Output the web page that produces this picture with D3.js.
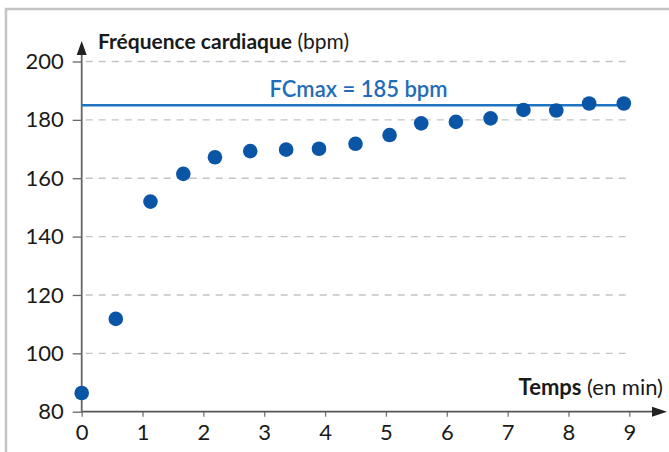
<!DOCTYPE html>
<html>
<head>
<meta charset="utf-8">
<script src="https://cdn.jsdelivr.net/npm/d3@7"></script>
<style>
  body { margin: 0; background: #fff; }
  svg { display: block; font-family: Lato, "Open Sans", sans-serif; }
</style>
</head>
<body>
<div id="chart"></div>
<script>
// time (min) and heart rate (bpm)
const minutes = [0, 0.56, 1.13, 1.67, 2.19, 2.77, 3.36, 3.9, 4.5, 5.06, 5.58, 6.15, 6.72, 7.26, 7.8, 8.34, 8.91];
const bpm = [86.4, 111.8, 152, 161.5, 167.2, 169.3, 169.8, 170.1, 171.8, 174.8, 178.8, 179.3, 180.5, 183.4, 183.2, 185.6, 185.6];
const xTicks = [0, 1, 2, 3, 4, 5, 6, 7, 8, 9];
const yTicks = [80, 100, 120, 140, 160, 180, 200];
const fcMax = 185;

const data = minutes.map((m, i) => ({ t: m, hr: bpm[i] }));

const width = 669, height = 452;
const svg = d3.select("#chart").append("svg")
    .attr("width", width)
    .attr("height", height);

// frame
svg.append("rect")
   .attr("x", 6).attr("y", 9)
   .attr("width", 700).attr("height", 500)
   .attr("fill", "none")
   .attr("stroke", "#c4c4c4")
   .attr("stroke-width", 2.5);

const x = d3.scaleLinear().domain([0, 9]).range([81.7, 629.3]);
const y = d3.scaleLinear().domain([80, 200]).range([411.7, 61.5]);

// dashed grid
svg.append("g")
   .selectAll("line")
   .data(yTicks.filter(d => d > 80))
   .enter().append("line")
   .attr("x1", x(0) + 4)
   .attr("x2", x(9) - 3)
   .attr("y1", d => y(d))
   .attr("y2", d => y(d))
   .attr("stroke", "#c4c4c4")
   .attr("stroke-width", 1.4)
   .attr("stroke-dasharray", "7,6");

// y axis
const yAxis = svg.append("g")
   .attr("transform", `translate(${x(0)},0)`)
   .call(d3.axisLeft(y).tickValues(yTicks).tickSize(9).tickPadding(9).tickFormat(d3.format("d")));
yAxis.select(".domain").remove();
yAxis.selectAll(".tick line").attr("stroke", "#666").attr("stroke-width", 1.3);
yAxis.selectAll(".tick text")
   .attr("font-family", "Lato, sans-serif")
   .attr("font-size", 22)
   .attr("fill", "#1a1a1a");

// x axis
const xAxis = svg.append("g")
   .attr("transform", `translate(0,${y(80)})`)
   .call(d3.axisBottom(x).tickValues(xTicks).tickSize(5).tickPadding(8));
xAxis.select(".domain").remove();
xAxis.selectAll(".tick line").attr("stroke", "#777").attr("stroke-width", 1.3);
xAxis.selectAll(".tick text")
   .attr("font-family", "Lato, sans-serif")
   .attr("font-size", 22)
   .attr("fill", "#1a1a1a");

// axis lines with arrows
svg.append("line")
   .attr("x1", x(0)).attr("x2", 655)
   .attr("y1", y(80)).attr("y2", y(80))
   .attr("stroke", "#555").attr("stroke-width", 1.8);
svg.append("path")
   .attr("d", `M667,${y(80)} L652,${y(80) - 5} L652,${y(80) + 5} Z`)
   .attr("fill", "#222");
svg.append("line")
   .attr("x1", x(0)).attr("x2", x(0))
   .attr("y1", y(80)).attr("y2", 52)
   .attr("stroke", "#666").attr("stroke-width", 1.8);
svg.append("path")
   .attr("d", `M${x(0)},41 L${x(0) - 5},55 L${x(0) + 5},55 Z`)
   .attr("fill", "#222");

// FCmax line
svg.append("line")
   .attr("x1", x(0)).attr("x2", x(9))
   .attr("y1", y(fcMax)).attr("y2", y(fcMax))
   .attr("stroke", "#1f74c2")
   .attr("stroke-width", 2.5);
svg.append("text")
   .attr("x", (x(0) + x(9)) / 2 + 3)
   .attr("y", y(fcMax) - 8)
   .attr("text-anchor", "middle")
   .attr("font-size", 22)
   .attr("font-weight", 600)
   .attr("fill", "#1f6db8")
   .text(`FCmax = ${fcMax} bpm`);

// points
svg.append("g")
   .selectAll("circle")
   .data(data)
   .enter().append("circle")
   .attr("cx", d => x(d.t))
   .attr("cy", d => y(d.hr))
   .attr("r", 7.3)
   .attr("fill", "#0a55a6");

// axis titles
const yt = svg.append("text")
   .attr("x", 98).attr("y", 49)
   .attr("font-size", 21)
   .attr("fill", "#1a1a1a");
yt.append("tspan").attr("font-weight", 700).text("Fréquence cardiaque");
yt.append("tspan").text(" (bpm)");

const xt = svg.append("text")
   .attr("x", 663).attr("y", 395)
   .attr("text-anchor", "end")
   .attr("font-size", 22)
   .attr("fill", "#1a1a1a");
xt.append("tspan").attr("font-weight", 700).text("Temps");
xt.append("tspan").text(" (en min)");
</script>
</body>
</html>
